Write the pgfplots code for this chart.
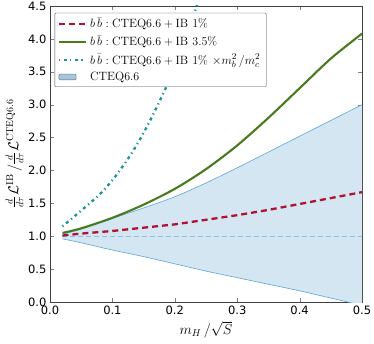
\documentclass[border=0pt]{standalone}
\usepackage[no-math]{fontspec}
\setmainfont{DejaVu Sans}
\usepackage{amsmath}
\usepackage{pgfplots}
\pgfplotsset{compat=1.18}
\usepgfplotslibrary{fillbetween}
\definecolor{cRed}{RGB}{175,18,50}
\definecolor{cGreen}{RGB}{72,122,30}
\definecolor{cTeal}{RGB}{25,148,150}
\definecolor{cBand}{RGB}{212,230,241}
\definecolor{cEdge}{RGB}{95,165,215}
\definecolor{cPatch}{RGB}{160,200,226}

\begin{document}
\begin{tikzpicture}
\begin{axis}[
  scale only axis, width=312pt, height=296pt,
  xmin=0, xmax=0.5, ymin=0, ymax=4.5,
  xtick={0,0.1,...,0.5}, ytick={0,0.5,...,4.5},
  tick align=inside, major tick length=4pt,
  tick pos=both,
  /pgf/number format/.cd, fixed, fixed zerofill, precision=1, assume math mode=true,
  /pgfplots/.cd,
  tick label style={font=\fontsize{11.5}{13}\selectfont},
  axis line style={black!75, line width=0.9pt},
  xlabel={$m_H\,/\sqrt{S}$},
  ylabel={$\frac{d}{d\tau}\mathcal{L}^{\rm IB}\,/\frac{d}{d\tau}\mathcal{L}^{\rm CTEQ6.6}$},
  label style={font=\fontsize{14.5}{16}\selectfont},
  ylabel style={yshift=-2pt},
  legend cell align=left,
  legend style={at={(0.015,0.977)}, anchor=north west, draw=black!70, rounded corners=1pt,
    font=\fontsize{13}{15}\selectfont, row sep=2.5pt, inner sep=3pt,
    nodes={inner xsep=3pt}},
  legend image code/.code={\draw[#1] (0pt,0pt) -- (27pt,0pt);},
]
% band
\addplot[name path=up, draw=cEdge, line width=0.6pt, smooth, forget plot] coordinates {
 (0.02,1.03)(0.05,1.11)(0.1,1.27)(0.15,1.43)(0.2,1.60)(0.25,1.81)(0.3,2.04)(0.35,2.28)(0.4,2.52)(0.45,2.76)(0.5,3.0)};
\addplot[name path=lo, draw=cEdge, line width=0.6pt, smooth, forget plot] coordinates {
 (0.02,0.96)(0.05,0.90)(0.1,0.79)(0.15,0.69)(0.2,0.58)(0.25,0.47)(0.3,0.37)(0.35,0.27)(0.4,0.17)(0.45,0.06)(0.5,-0.05)};
\addplot[cBand, forget plot] fill between[of=up and lo];
\addplot[cEdge!70, dash pattern=on 5pt off 3pt, line width=0.6pt, forget plot] coordinates {(0.02,1.0)(0.5,1.0)};
% curves
\addplot[cRed, line width=2.3pt, dash pattern=on 6pt off 4pt] coordinates {
 (0.02,1.01)(0.05,1.04)(0.1,1.08)(0.15,1.13)(0.2,1.18)(0.25,1.25)(0.3,1.32)(0.35,1.40)(0.4,1.49)(0.45,1.58)(0.5,1.67)};
\addlegendentry{$b\,\bar{b}: \mathrm{CTEQ6.6+IB\ 1\%}$}
\addplot[cGreen, line width=2.1pt, smooth] coordinates {
 (0.02,1.05)(0.05,1.12)(0.1,1.28)(0.15,1.48)(0.2,1.72)(0.25,2.02)(0.3,2.38)(0.35,2.80)(0.4,3.25)(0.45,3.70)(0.5,4.08)};
\addlegendentry{$b\,\bar{b}: \mathrm{CTEQ6.6+IB\ 3.5\%}$}
\addplot[cTeal, line width=2.3pt, dash pattern=on 1.2pt off 3.5pt on 3pt off 3.5pt, smooth] coordinates {
 (0.02,1.15)(0.05,1.39)(0.08,1.64)(0.104,1.90)(0.128,2.22)(0.144,2.47)(0.16,2.75)(0.18,3.14)(0.2,3.56)(0.22,4.05)(0.235,4.50)(0.24,4.65)};
\addlegendentry{$b\,\bar{b}: \mathrm{CTEQ6.6+IB\ 1\%}\ {\times} m_b^2\,/m_c^2$}
\addlegendimage{area legend, fill=cPatch, draw=gray, line width=0.6pt}
\addlegendentry{$\mathrm{CTEQ6.6}$}
\end{axis}
\pgfresetboundingbox
\path[use as bounding box] (-50pt,-41pt) rectangle (324pt,302pt);
\end{tikzpicture}
\end{document}
